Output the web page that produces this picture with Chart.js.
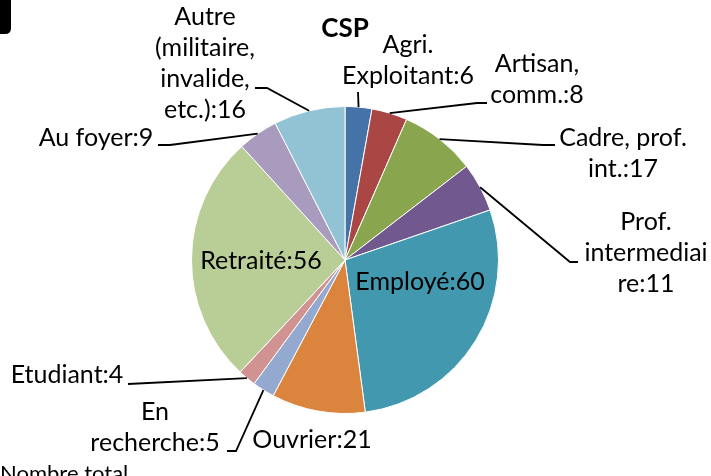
<!DOCTYPE html>
<html>
<head>
<meta charset="utf-8">
<script src="https://cdn.jsdelivr.net/npm/chart.js@4/dist/chart.umd.min.js"></script>
<style>
html,body{margin:0;padding:0;background:#fff;}
#wrap{width:711px;height:476px;position:relative;}
</style>
</head>
<body>
<div id="wrap"><canvas id="c" width="711" height="476"></canvas></div>
<script>
// ---- data ----
const title = 'CSP';
const categories = [
  'Agri. Exploitant',
  'Artisan, comm.',
  'Cadre, prof. int.',
  'Prof. intermediaire',
  'Employé',
  'Ouvrier',
  'En recherche',
  'Etudiant',
  'Retraité',
  'Au foyer',
  'Autre (militaire, invalide, etc.)'
];
const values = [6, 8, 17, 11, 60, 21, 5, 4, 56, 9, 16];
const footnote = 'Nombre total';

// ---- styles / layout ----
const colors = ['#4572A7','#AA4643','#89A54E','#71588F','#4198AF','#DB843D',
                '#93A9CF','#D19392','#B9CD96','#A99BBD','#92C3D4'];
const FONT = '"Lato", "Liberation Sans", sans-serif';
const FS = 25;
const LH = 31;
// label layout: x = centre of text, y = baseline of first line, br = wrap positions, pts = leader elbows
const labelLayout = [
  {x:408, y:53,  br:[5],        pts:[[358,92]]},
  {x:537, y:72,  br:[8],        pts:[[477,103],[487,103]]},
  {x:623, y:146, br:[12],       pts:[[543,145],[555,145]]},
  {x:646, y:230, br:[5,17],     pts:[[570,262],[578,262]]},
  {x:420, y:290, br:[],         pts:null},
  {x:312, y:448, br:[],         pts:null},
  {x:155, y:420, br:[2],        pts:[[236,451],[227,451]]},
  {x:67,  y:383, br:[],         pts:[[128,384]]},
  {x:261, y:269, br:[],         pts:null},
  {x:96,  y:146, br:[],         pts:[[170,145],[158,145]]},
  {x:205, y:25,  br:[5,17,27],  pts:[[267,88],[255,88]]}
];

function wrapText(s, br){
  const out = []; let prev = 0;
  br.forEach(b => { out.push(s.slice(prev, b).trim()); prev = b; });
  out.push(s.slice(prev).trim());
  return out;
}

const labelsPlugin = {
  id: 'labelsPlugin',
  afterDatasetsDraw(chart){
    const ctx = chart.ctx;
    const meta = chart.getDatasetMeta(0);
    ctx.save();
    // leader lines
    ctx.strokeStyle = '#000';
    ctx.lineWidth = 1.8;
    meta.data.forEach((arc, i) => {
      const L = labelLayout[i];
      if (!L.pts) return;
      const p = arc.getProps(['x','y','startAngle','endAngle','outerRadius'], true);
      const mid = (p.startAngle + p.endAngle) / 2;
      const sx = p.x + Math.cos(mid) * p.outerRadius;
      const sy = p.y + Math.sin(mid) * p.outerRadius;
      ctx.beginPath();
      ctx.moveTo(sx, sy);
      L.pts.forEach(pt => ctx.lineTo(pt[0], pt[1]));
      ctx.stroke();
    });
    // labels
    ctx.fillStyle = '#000';
    ctx.font = FS + 'px ' + FONT;
    ctx.textAlign = 'center';
    ctx.textBaseline = 'alphabetic';
    categories.forEach((c, i) => {
      const L = labelLayout[i];
      const lines = wrapText(c + ':' + values[i], L.br);
      lines.forEach((ln, k) => ctx.fillText(ln, L.x, L.y + k * LH));
    });
    // title
    ctx.font = 'bold 26px ' + FONT;
    ctx.fillText(title, 345, 37);
    // footnote (cut by the bottom edge)
    ctx.font = '22px ' + FONT;
    ctx.textAlign = 'left';
    ctx.fillText(footnote, 0, 481);
    // black tab at top-left
    ctx.fillStyle = '#000';
    ctx.beginPath();
    ctx.moveTo(0, 0); ctx.lineTo(11, 0); ctx.lineTo(11, 28);
    ctx.quadraticCurveTo(11, 34, 5, 34); ctx.lineTo(0, 34);
    ctx.closePath(); ctx.fill();
    ctx.restore();
  }
};

new Chart(document.getElementById('c'), {
  type: 'pie',
  data: {
    labels: categories,
    datasets: [{
      data: values,
      backgroundColor: colors,
      borderColor: '#ffffff',
      borderWidth: 1
    }]
  },
  options: {
    responsive: false,
    animation: false,
    layout: { padding: { left: 191, right: 212, top: 106, bottom: 62 } },
    plugins: {
      legend: { display: false },
      tooltip: { enabled: false },
      title: { display: false }
    }
  },
  plugins: [labelsPlugin]
});
</script>
</body>
</html>
